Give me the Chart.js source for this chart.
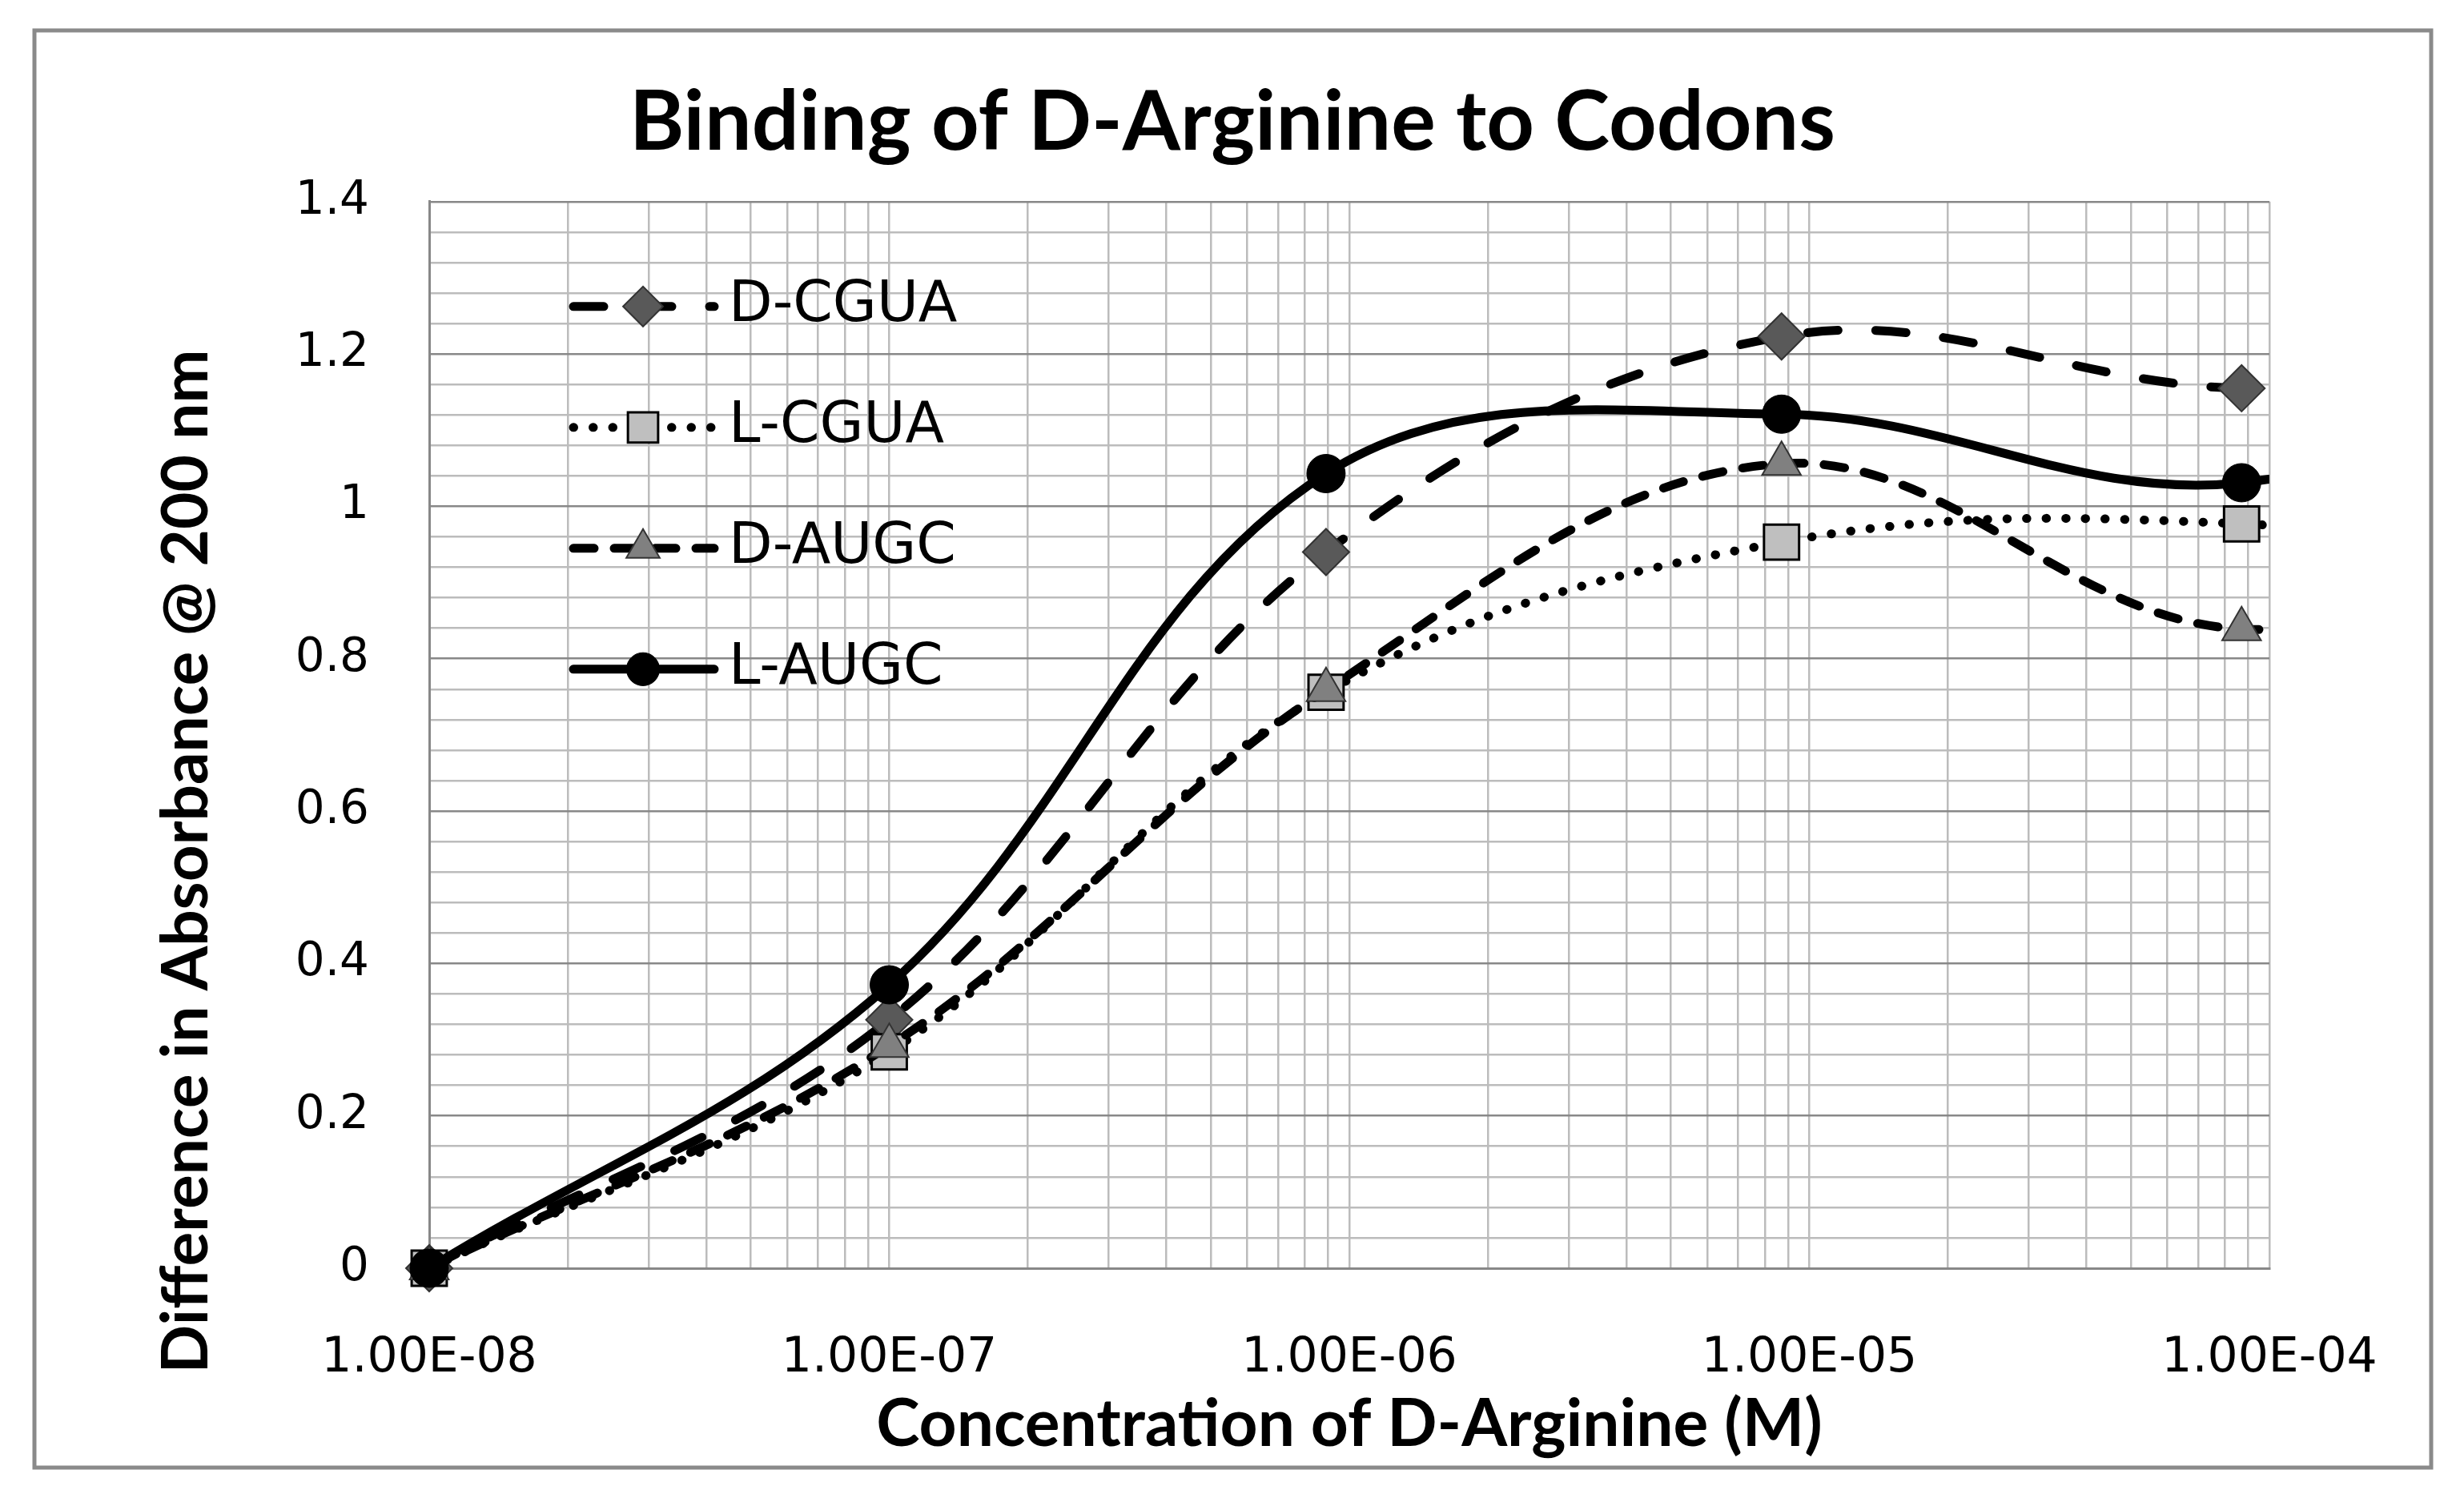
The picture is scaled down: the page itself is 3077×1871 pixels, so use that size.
<!DOCTYPE html>
<html>
<head>
<meta charset="utf-8">
<title>Binding of D-Arginine to Codons</title>
<script src="https://cdn.jsdelivr.net/npm/chart.js@4.4.1/dist/chart.umd.min.js"></script>
<style>
  html, body { margin: 0; padding: 0; background: #fff; overflow: hidden; }
  canvas { display: block; }
</style>
</head>
<body>
<canvas id="bindingChart" width="3077" height="1871"></canvas>
<script>
// concentration of D-arginine (M); the last value lies past the axis end,
// it only keeps the smoothed lines running on to the right edge
const concentrations = [1e-8, 1e-7, 8.9e-7, 8.7e-6, 8.7e-5, 8.7e-4];
const seriesNames = ["D-CGUA", "L-CGUA", "D-AUGC", "L-AUGC"];
const dCGUA = [0, 0.326, 0.94, 1.223, 1.155, 1.2];
const lCGUA = [0, 0.284, 0.756, 0.953, 0.977, 0.9];
const dAUGC = [0, 0.292, 0.759, 1.056, 0.839, 1.0];
const lAUGC = [0, 0.372, 1.043, 1.121, 1.031, 1.25];
const xTickLabels = ["1.00E-08", "1.00E-07", "1.00E-06", "1.00E-05", "1.00E-04"];
const yTickLabels = ["0", "0.2", "0.4", "0.6", "0.8", "1", "1.2", "1.4"];

const styles = [
  { dash: [38, 47], point: "rectRot", radius: 29, fill: "#595959", edge: "#333333", edgeWidth: 2 },
  { dash: [0.5, 24], point: "rect", radius: 31, fill: "#bfbfbf", edge: "#000000", edgeWidth: 3 },
  { dash: [26, 25], point: "triangle", radius: 28, fill: "#808080", edge: "#333333", edgeWidth: 2 },
  { dash: [], point: "circle", radius: 24, fill: "#000000", edge: "#000000", edgeWidth: 1 }
];

function toPoints(values) {
  return values.map((v, i) => ({ x: concentrations[i], y: v }));
}

function isDecade(v) {
  const e = Math.log10(v);
  return Math.abs(e - Math.round(e)) < 1e-9;
}

function isMajorY(v) {
  const k = v / 0.2;
  return Math.abs(k - Math.round(k)) < 1e-9;
}

// frame round the whole chart
const framePlugin = {
  id: "frame",
  beforeDraw(chart) {
    const ctx = chart.ctx;
    ctx.save();
    ctx.strokeStyle = "#8a8a8a";
    ctx.lineWidth = 5;
    ctx.strokeRect(43, 38, 2993, 1795);
    ctx.restore();
  }
};

// vertical axis title, placed like the original (not centred on the plot)
const yTitlePlugin = {
  id: "yTitle",
  afterDraw(chart) {
    const ctx = chart.ctx;
    ctx.save();
    ctx.translate(233, 1076);
    ctx.rotate(-Math.PI / 2);
    ctx.font = "bold 80px Lato";
    ctx.fillStyle = "#000";
    ctx.textAlign = "center";
    ctx.textBaseline = "middle";
    ctx.fillText("Difference in Absorbance @ 200 nm", 0, 0);
    ctx.restore();
  }
};

// legend inside the plot, top left
const legendPlugin = {
  id: "insideLegend",
  afterDatasetsDraw(chart) {
    const ctx = chart.ctx;
    const area = chart.chartArea;
    seriesNames.forEach((name, i) => {
      const s = styles[i];
      const y = area.top + 131 + i * 151;
      const x0 = area.left + 180;
      ctx.save();
      ctx.strokeStyle = "#000";
      ctx.lineWidth = 11;
      ctx.lineCap = "round";
      ctx.setLineDash(s.dash);
      ctx.beginPath();
      ctx.moveTo(x0, y);
      ctx.lineTo(x0 + 176, y);
      ctx.stroke();
      ctx.setLineDash([]);
      ctx.fillStyle = s.fill;
      ctx.strokeStyle = s.edge;
      ctx.lineWidth = s.edgeWidth;
      Chart.helpers.drawPoint(ctx, {
        pointStyle: s.point, rotation: 0, radius: s.radius * 0.86, borderWidth: s.edgeWidth
      }, x0 + 87, y);
      ctx.fillStyle = "#000";
      ctx.font = '71px "DejaVu Sans"';
      ctx.textAlign = "left";
      ctx.textBaseline = "middle";
      ctx.fillText(name, area.left + 374, y);
      ctx.restore();
    });
  }
};

const seriesValues = [dCGUA, lCGUA, dAUGC, lAUGC];
const datasets = seriesValues.map((vals, i) => ({
  label: seriesNames[i],
  data: toPoints(vals),
  borderColor: "#000",
  borderWidth: 11,
  borderDash: styles[i].dash,
  borderCapStyle: "round",
  borderJoinStyle: "round",
  pointStyle: styles[i].point,
  pointRadius: styles[i].radius,
  pointBackgroundColor: styles[i].fill,
  pointBorderColor: styles[i].edge,
  pointBorderWidth: styles[i].edgeWidth,
  fill: false,
  order: 4 - i,
  clip: { left: 60, top: 60, right: 0, bottom: 60 }
}));

const ctx = document.getElementById("bindingChart").getContext("2d");
new Chart(ctx, {
  type: "line",
  data: { datasets: datasets },
  plugins: [framePlugin, yTitlePlugin, legendPlugin],
  options: {
    responsive: false,
    animation: false,
    layout: { padding: { left: 244, right: 243, top: 0, bottom: 0 } },
    elements: {
      line: { tension: 0.37, capBezierPoints: false }
    },
    plugins: {
      legend: { display: false },
      tooltip: { enabled: false },
      title: {
        display: true,
        text: "Binding of D-Arginine to Codons",
        color: "#000",
        font: { family: "Lato", weight: "bold", size: 104, lineHeight: 1.2 },
        padding: { top: 91, bottom: 36 }
      }
    },
    scales: {
      x: {
        type: "logarithmic",
        min: 1e-8,
        max: 1e-4,
        afterBuildTicks(scale) {
          const ticks = [];
          for (let e = -8; e < -4; e++) {
            for (let m = 1; m <= 9; m++) ticks.push({ value: m * Math.pow(10, e) });
          }
          ticks.push({ value: 1e-4 });
          scale.ticks = ticks;
        },
        afterFit(scale) { scale.height = 287; },
        grid: { color: "#bcbcbc", lineWidth: 2.5, drawTicks: false },
        border: { display: true, color: "#888", width: 3 },
        ticks: {
          autoSkip: false,
          maxRotation: 0,
          padding: 77,
          color: "#000",
          font: { family: "DejaVu Sans", size: 60 },
          callback(value) {
            if (!isDecade(value)) return "";
            return xTickLabels[Math.round(Math.log10(value)) + 8];
          }
        },
        title: {
          display: true,
          text: "Concentration of D-Arginine (M)",
          color: "#000",
          font: { family: "Lato", weight: "bold", size: 82, lineHeight: 1.2 },
          padding: { top: 0, bottom: 42 }
        }
      },
      y: {
        min: 0,
        max: 1.4,
        afterBuildTicks(scale) {
          const ticks = [];
          for (let i = 0; i <= 35; i++) ticks.push({ value: Math.round(i * 4) / 100 });
          scale.ticks = ticks;
        },
        afterFit(scale) { scale.width = 292; },
        grid: {
          color: (c) => (c.tick && isMajorY(c.tick.value) ? "#888888" : "#bcbcbc"),
          lineWidth: 2.5,
          drawTicks: false
        },
        border: { display: true, color: "#888", width: 3 },
        ticks: {
          autoSkip: false,
          padding: 75,
          color: "#000",
          font: { family: "DejaVu Sans", size: 58 },
          callback(value) {
            if (!isMajorY(value)) return "";
            return yTickLabels[Math.round(value / 0.2)];
          }
        }
      }
    }
  }
});
</script>
</body>
</html>
